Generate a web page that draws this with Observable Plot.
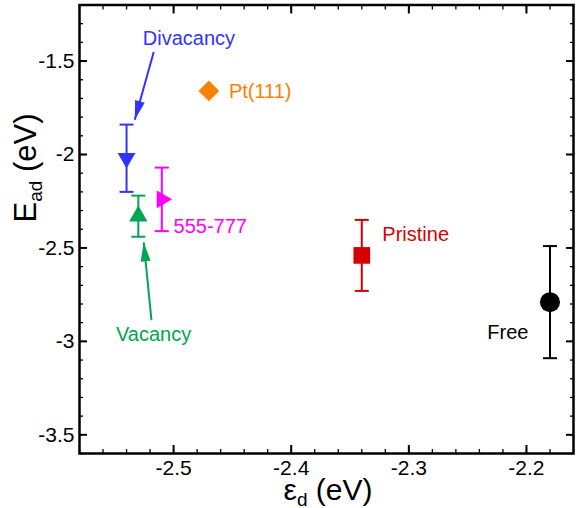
<!DOCTYPE html>
<html><head><meta charset="utf-8">
<script src="https://cdn.jsdelivr.net/npm/d3@7"></script>
<script src="https://cdn.jsdelivr.net/npm/@observablehq/plot@0.6"></script>
<style>body{margin:0;background:#fff;} svg{font-family:"Liberation Sans",Arial,Helvetica,sans-serif;}</style>
</head><body><div id="chart"></div>
<script>
// ---- data ----
const names = ["Divacancy", "555-777", "Vacancy", "Pt(111)", "Pristine", "Free"];
const epsD  = [-2.54, -2.51, -2.53, -2.47, -2.34, -2.18];
const eAd   = [-2.02, -2.24, -2.33, -1.66, -2.54, -2.79];
const eErr  = [0.18, 0.17, 0.11, 0, 0.19, 0.30];
const xTicks = [-2.5, -2.4, -2.3, -2.2];
const yTicks = [-1.5, -2, -2.5, -3, -3.5];
// annotation label anchors (data coordinates)
const labelX = [-2.487, -2.500, -2.517, -2.453, -2.3225, -2.2333];
const labelY = [-1.379, -2.384, -2.962, -1.663, -2.427, -2.951];
// annotation arrows (tail -> tip, data coordinates)
const arrowFor = ["Divacancy", "Vacancy"];
const arrowX1 = [-2.5169, -2.5188];
const arrowY1 = [-1.452, -2.887];
const arrowX2 = [-2.5330, -2.5254];
const arrowY2 = [-1.814, -2.470];

// ---- styles ----
const style = {
  "Divacancy": {color: "#3333ff", symbol: "triangle", rotate: 180, r: 6.6, anchor: "middle"},
  "555-777":   {color: "#ff00ff", symbol: "triangle", rotate: 90,  r: 6.6, anchor: "start"},
  "Vacancy":   {color: "#00a651", symbol: "triangle", rotate: 0,   r: 6.8, anchor: "middle"},
  "Pt(111)":   {color: "#ff8000", symbol: "square",   rotate: 45,  r: 8.3, anchor: "start"},
  "Pristine":  {color: "#d60000", symbol: "square",   rotate: 0,   r: 9.4, anchor: "start"},
  "Free":      {color: "#000000", symbol: "circle",   rotate: 0,   r: 10,  anchor: "start"}
};

const W = 578, H = 508;
const mL = 79, mR = 5, mT = 4.5, mB = 55;
const xDomain = [-2.58, -2.16], yDomain = [-3.6, -1.2];
const xs = d3.scaleLinear(xDomain, [mL, W - mR]);
const ys = d3.scaleLinear(yDomain, [H - mB, mT]);

const points = names.map((n, i) => ({name: n, x: epsD[i], y: eAd[i], err: eErr[i]}));
const bars = points.filter(p => p.err > 0);
const caps = bars.flatMap(p => [{name: p.name, x: p.x, y: p.y - p.err}, {name: p.name, x: p.x, y: p.y + p.err}]);
const labels = names.map((n, i) => ({name: n, x: labelX[i], y: labelY[i]}));
const arrows = arrowFor.map((n, i) => ({name: n, x1: arrowX1[i], y1: arrowY1[i], x2: arrowX2[i], y2: arrowY2[i]}));

const xMinor = d3.range(-2.58, -2.159, 0.02).map(v => +v.toFixed(2));
const yMinor = d3.range(-3.6, -1.19, 0.1).map(v => +v.toFixed(1));

const capSymbol = {draw(ctx) { ctx.moveTo(-7, 0); ctx.lineTo(7, 0); }};
const headSymbol = {draw(ctx) { ctx.moveTo(0, 0); ctx.lineTo(5, 19); ctx.lineTo(-5, 19); ctx.closePath(); }};
const col = d => style[d.name].color;

const fmt = d => String(d);
const marks = [
  // minor ticks
  Plot.axisX(xMinor, {anchor: "bottom", tickSize: -4, tickFormat: () => "", label: null, strokeWidth: 1.3}),
  Plot.axisX(xMinor, {anchor: "top", tickSize: -4, tickFormat: () => "", label: null, strokeWidth: 1.3}),
  Plot.axisY(yMinor, {anchor: "left", tickSize: -4, tickFormat: () => "", label: null, strokeWidth: 1.3}),
  Plot.axisY(yMinor, {anchor: "right", tickSize: -4, tickFormat: () => "", label: null, strokeWidth: 1.3}),
  // major ticks
  Plot.axisX(xTicks, {anchor: "bottom", tickSize: -8, tickPadding: 15, tickFormat: fmt, label: null, fontSize: 21, strokeWidth: 2}),
  Plot.axisX(xTicks, {anchor: "top", tickSize: -8, tickFormat: () => "", label: null, strokeWidth: 2}),
  Plot.axisY(yTicks, {anchor: "left", tickSize: -8, tickPadding: 13, tickFormat: fmt, label: null, fontSize: 21, strokeWidth: 2}),
  Plot.axisY(yTicks, {anchor: "right", tickSize: -8, tickFormat: () => "", label: null, strokeWidth: 2}),
  // error bars
  Plot.ruleX(bars, {x: "x", y1: d => d.y - d.err, y2: d => d.y + d.err, stroke: col, strokeWidth: 2}),
  Plot.dot(caps, {x: "x", y: "y", symbol: capSymbol, stroke: col, fill: "none", strokeWidth: 2}),
  // markers
  ...points.map(p => Plot.dot([p], {x: "x", y: "y", symbol: style[p.name].symbol, rotate: style[p.name].rotate,
      r: style[p.name].r, fill: style[p.name].color, stroke: "none"})),
  // annotation arrows
  Plot.link(arrows, {x1: "x1", y1: "y1", x2: "x2", y2: "y2", stroke: col, strokeWidth: 2}),
  Plot.dot(arrows, {x: "x2", y: "y2", symbol: headSymbol, fill: col, stroke: "none",
      rotate: d => Math.atan2(xs(d.x2) - xs(d.x1), -(ys(d.y2) - ys(d.y1))) * 180 / Math.PI}),
  // labels
  ...labels.map(l => Plot.text([l], {x: "x", y: "y", text: "name", fill: style[l.name].color,
      textAnchor: style[l.name].anchor, fontSize: 20})),
  Plot.frame({stroke: "black", strokeWidth: 2.5})
];

const plot = Plot.plot({
  width: W, height: H,
  marginLeft: mL, marginRight: mR, marginTop: mT, marginBottom: mB,
  style: {fontFamily: '"Liberation Sans", Arial, Helvetica, sans-serif', background: "white", color: "black"},
  x: {domain: xDomain, axis: null},
  y: {domain: yDomain, axis: null},
  marks
});

const svg = d3.select(plot);
// x axis title: ε_d (eV)
const xt = svg.append("text").attr("x", 328).attr("y", 500).attr("text-anchor", "middle")
  .attr("font-size", 30).attr("fill", "black");
xt.append("tspan").text("ε");
xt.append("tspan").attr("font-size", 19).attr("baseline-shift", "-30%").text("d");
xt.append("tspan").text(" (eV)");
// y axis title: E_ad (eV)
const yt = svg.append("text").attr("transform", "translate(36,168) rotate(-90)").attr("text-anchor", "middle")
  .attr("font-size", 31).attr("fill", "black");
yt.append("tspan").text("E");
yt.append("tspan").attr("font-size", 19).attr("baseline-shift", "-30%").text("ad");
yt.append("tspan").text(" (eV)");

document.getElementById("chart").appendChild(plot);
</script>
</body></html>
